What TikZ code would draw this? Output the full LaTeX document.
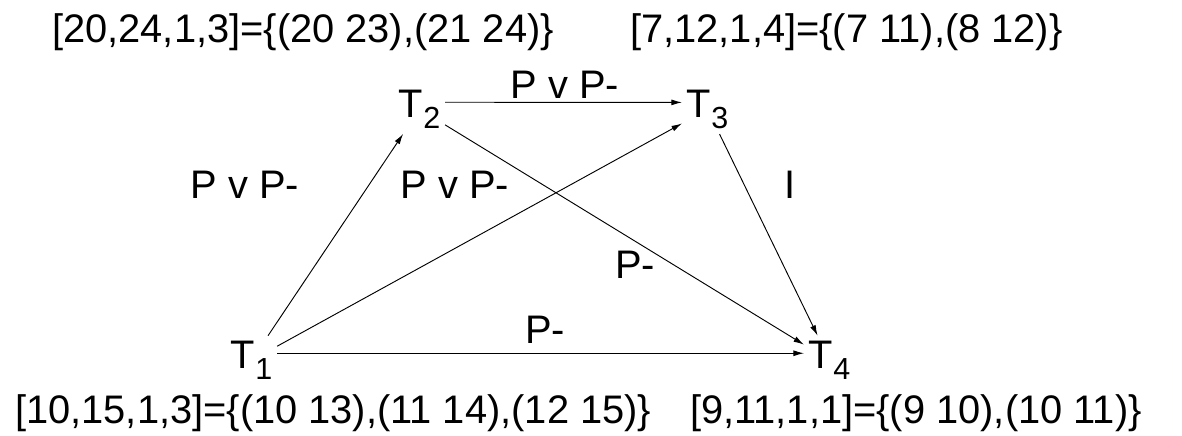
\documentclass[tikz,border=0pt]{standalone}
\usepackage{fontspec}
\setmainfont{Liberation Sans}
\usetikzlibrary{arrows.meta}
\newcommand{\tsub}[1]{\raisebox{-0.3em}{\fontsize{26}{30}\selectfont #1}}
\begin{document}
\begin{tikzpicture}[x=0.03cm,y=-0.03cm,
    every node/.style={font=\fontsize{34}{40}\selectfont},
    setlabel/.style={inner sep=0pt,anchor=base west},
    task/.style={inner sep=4pt,anchor=base west},
    link/.style={-{Latex[length=9pt,width=5pt]},line width=0.8pt}]
  \useasboundingbox (0,0) rectangle (1182,435);

  % Sets
  \node[setlabel] (setTtwo) at (52,42) {[20,24,1,3]=\{(20 23),(21 24)\}};
  \node[setlabel] (setTthree) at (630,42) {[7,12,1,4]=\{(7 11),(8 12)\}};
  \node[setlabel] (setTone) at (15,423) {[10,15,1,3]=\{(10 13),(11 14),(12 15)\}};
  \node[setlabel] (setTfour) at (690,423) {[9,11,1,1]=\{(9 10),(10 11)\}};

  % Tasks
  \node[task] (Tone) at (226,368) {T\tsub{1}};
  \node[task] (Ttwo) at (394,117) {T\tsub{2}};
  \node[task] (Tthree) at (682,117) {T\tsub{3}};
  \node[task] (Tfour) at (804,368) {T\tsub{4}};

  % Labels
  \node (lab12) at (245,185) {P v P-};
  \node (lab13) at (455,185) {P v P-};
  \node (lab23) at (565,85) {P v P-};
  \node (lab24) at (635,265) {P-};
  \node (lab34) at (790,185) {I};
  \node (lab14) at (545,330) {P-};

  % Edges
  \draw[link] (Tone) -- (Ttwo);
  \draw[link] (Tone) -- (Tthree);
  \draw[link] ([yshift=6pt]Tone.east) -- ([yshift=6pt]Tfour.west);
  \draw[link] ([yshift=6pt]Ttwo.east) -- ([yshift=6pt]Tthree.west);
  \draw[link] (Ttwo) -- (Tfour);
  \draw[link] (Tthree) -- (Tfour);
\end{tikzpicture}
\end{document}
